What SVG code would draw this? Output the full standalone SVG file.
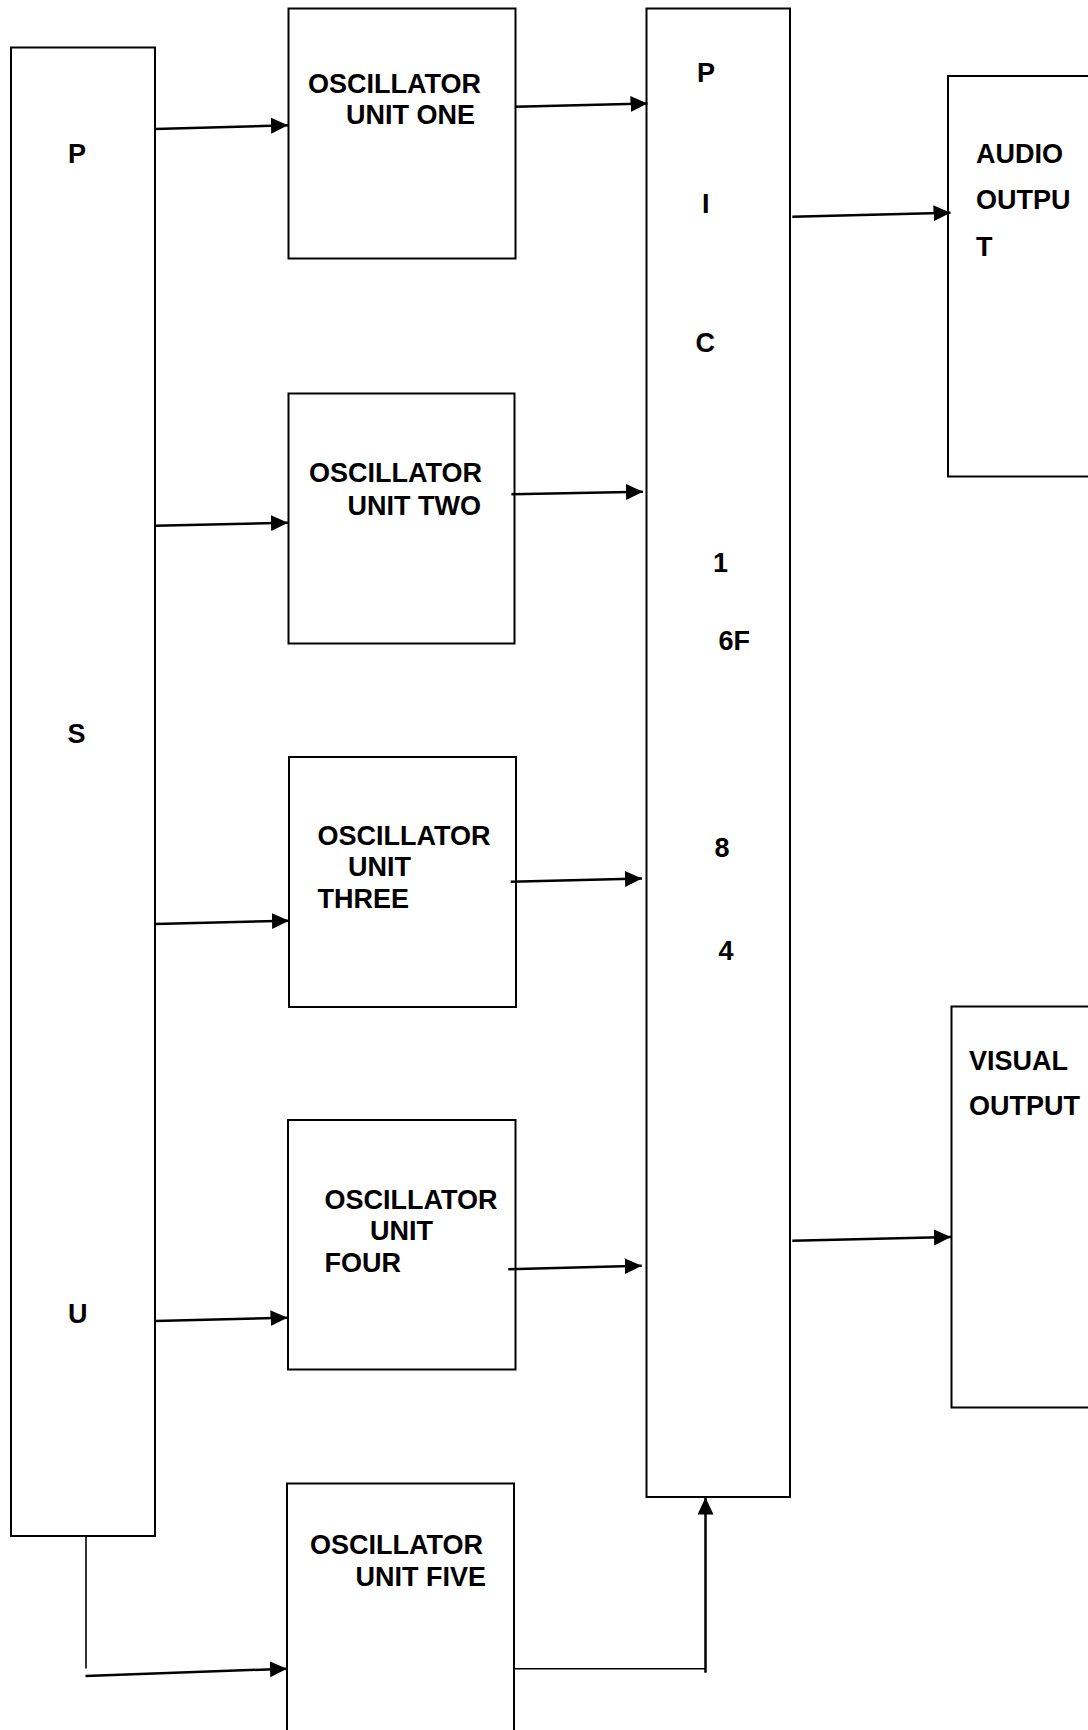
<svg xmlns="http://www.w3.org/2000/svg" width="1088" height="1730" viewBox="0 0 1088 1730">
<style>
.box{fill:#fff;stroke:#000;stroke-width:2}
.t{font-family:"Liberation Sans",Arial,sans-serif;font-weight:bold;font-size:27px;fill:#000}
.c{fill:none;stroke:#000;stroke-width:2.5}
.thin{fill:none;stroke:#000;stroke-width:1.6}
</style>
<defs>
<marker id="ah" markerUnits="userSpaceOnUse" markerWidth="18" markerHeight="17" refX="17" refY="8" orient="auto">
<path d="M0,0 L17,8 L0,16 z" fill="#000"/>
</marker>
</defs>
<rect width="1088" height="1730" fill="#fff"/>
<g id="psu">
<rect class="box" x="11" y="47.5" width="144" height="1488.5"/>
<text class="t" x="68" y="163">P</text>
<text class="t" x="67.5" y="742.5">S</text>
<text class="t" x="68" y="1323">U</text>
</g>
<g id="osc1">
<rect class="box" x="288.5" y="8.5" width="227" height="250"/>
<text class="t" x="308" y="92.5">OSCILLATOR</text>
<text class="t" x="346" y="124">UNIT ONE</text>
</g>
<g id="osc2">
<rect class="box" x="288.5" y="393.5" width="226" height="250"/>
<text class="t" x="309" y="482">OSCILLATOR</text>
<text class="t" x="347.5" y="515">UNIT TWO</text>
</g>
<g id="osc3">
<rect class="box" x="289" y="757" width="227" height="250"/>
<text class="t" x="317.5" y="845">OSCILLATOR</text>
<text class="t" x="348" y="876">UNIT</text>
<text class="t" x="317.5" y="907.5">THREE</text>
</g>
<g id="osc4">
<rect class="box" x="288" y="1120" width="227.5" height="249.5"/>
<text class="t" x="324.5" y="1209">OSCILLATOR</text>
<text class="t" x="370" y="1240">UNIT</text>
<text class="t" x="324.5" y="1271.5">FOUR</text>
</g>
<g id="osc5">
<rect class="box" x="287" y="1483.5" width="227" height="260"/>
<text class="t" x="310" y="1554">OSCILLATOR</text>
<text class="t" x="355.5" y="1586">UNIT FIVE</text>
</g>
<g id="pic">
<rect class="box" x="646.5" y="8.5" width="143.5" height="1488.5"/>
<text class="t" x="697" y="81.5">P</text>
<text class="t" x="702" y="213">I</text>
<text class="t" x="695.5" y="352">C</text>
<text class="t" x="713" y="571.5">1</text>
<text class="t" x="718.5" y="650">6F</text>
<text class="t" x="714.5" y="856.5">8</text>
<text class="t" x="718.5" y="960">4</text>
</g>
<g id="audio">
<rect class="box" x="948" y="76" width="200" height="400.5"/>
<text class="t" x="976" y="162.5">AUDIO</text>
<text class="t" x="976" y="208.5">OUTPU</text>
<text class="t" x="976" y="255.5">T</text>
</g>
<g id="visual">
<rect class="box" x="951.5" y="1006.5" width="200" height="401"/>
<text class="t" x="969" y="1069.5">VISUAL</text>
<text class="t" x="969" y="1115">OUTPUT</text>
</g>
<g id="connectors">
<line class="c" x1="155" y1="129" x2="288" y2="125.3" marker-end="url(#ah)"/>
<line class="c" x1="155" y1="525.7" x2="288" y2="522.7" marker-end="url(#ah)"/>
<line class="c" x1="155" y1="924" x2="289" y2="920.7" marker-end="url(#ah)"/>
<line class="c" x1="155" y1="1321" x2="287.5" y2="1317.7" marker-end="url(#ah)"/>
<line class="thin" x1="86" y1="1536" x2="86" y2="1668.5"/>
<line class="c" x1="85.5" y1="1676" x2="287" y2="1668.7" marker-end="url(#ah)"/>
<line class="c" x1="515.5" y1="106.7" x2="647.5" y2="103.5" marker-end="url(#ah)"/>
<line class="c" x1="511.4" y1="494.3" x2="643" y2="491.7" marker-end="url(#ah)"/>
<line class="c" x1="510.7" y1="881.7" x2="642" y2="878.5" marker-end="url(#ah)"/>
<line class="c" x1="508.3" y1="1269.3" x2="641.7" y2="1265.7" marker-end="url(#ah)"/>
<line class="thin" x1="515" y1="1668.7" x2="705.5" y2="1668.7"/>
<line class="c" x1="705.5" y1="1672.7" x2="705.5" y2="1497.5" marker-end="url(#ah)"/>
<line class="c" x1="792.3" y1="216.7" x2="950.5" y2="212.7" marker-end="url(#ah)"/>
<line class="c" x1="792.3" y1="1240.7" x2="951" y2="1237" marker-end="url(#ah)"/>
</g>
</svg>
